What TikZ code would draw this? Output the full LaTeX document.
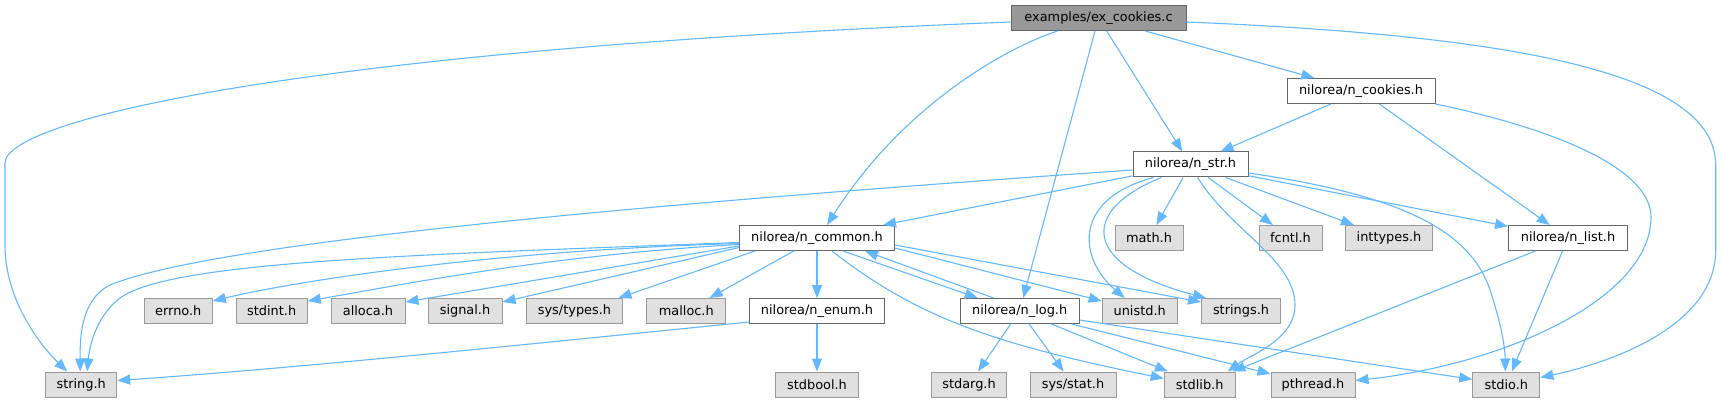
\documentclass[tikz,border=0pt]{standalone}
\usepackage{fontspec}
\newfontfamily\dejavu{DejaVu Sans}
\usetikzlibrary{arrows.meta,calc}
\definecolor{rootfill}{HTML}{999999}
\definecolor{darkborder}{HTML}{666666}
\definecolor{extfill}{HTML}{E0E0E0}
\definecolor{extborder}{HTML}{999999}
\definecolor{edgecol}{HTML}{63B8FF}
\tikzset{
  base/.style={draw, minimum height=25pt, inner sep=0pt, line width=1pt,
    font=\dejavu\fontsize{12.9}{15}\selectfont},
  rootbox/.style={base, fill=rootfill, draw=darkborder},
  docbox/.style={base, fill=white, draw=darkborder},
  extbox/.style={base, fill=extfill, draw=extborder},
  dep/.style={draw=edgecol, line width=1.1pt, -{Triangle[length=13pt,width=10pt]}},
}
\begin{document}
\begin{tikzpicture}[x=1pt,y=-1pt]
\fill[white] (0,0) rectangle (1721,403);
\useasboundingbox (0,0) rectangle (1721,403);
% row 0
\node[rootbox, minimum width=175pt] (root) at (1098.5,18) {examples/ex\_cookies.c};
% row 1
\node[docbox, minimum width=148pt] (cookies) at (1361,91) {nilorea/n\_cookies.h};
% row 2
\node[docbox, minimum width=115pt] (str) at (1190.5,164.5) {nilorea/n\_str.h};
% row 3
\node[docbox, minimum width=155pt] (common) at (817,238) {nilorea/n\_common.h};
\node[extbox, minimum width=68pt] (math) at (1149,238) {math.h};
\node[extbox, minimum width=63pt] (fcntl) at (1290.5,238) {fcntl.h};
\node[extbox, minimum width=87pt] (inttypes) at (1389,238) {inttypes.h};
\node[docbox, minimum width=119pt] (list) at (1568,238) {nilorea/n\_list.h};
% row 4
\node[extbox, minimum width=68pt] (errno) at (178.3,311) {errno.h};
\node[extbox, minimum width=71pt] (stdint) at (271.7,311) {stdint.h};
\node[extbox, minimum width=74pt] (alloca) at (368,311) {alloca.h};
\node[extbox, minimum width=74pt] (signal) at (465,311) {signal.h};
\node[extbox, minimum width=96pt] (systypes) at (574.5,311) {sys/types.h};
\node[extbox, minimum width=79pt] (malloc) at (686.3,311) {malloc.h};
\node[docbox, minimum width=135pt] (enum) at (817,311) {nilorea/n\_enum.h};
\node[docbox, minimum width=119pt] (log) at (1019.7,311) {nilorea/n\_log.h};
\node[extbox, minimum width=75pt] (unistd) at (1139.7,311) {unistd.h};
\node[extbox, minimum width=79pt] (strings) at (1241,311) {strings.h};
% row 5
\node[extbox, minimum width=71pt] (string) at (81.2,384.5) {string.h};
\node[extbox, minimum width=83pt] (stdbool) at (817,384.5) {stdbool.h};
\node[extbox, minimum width=75pt] (stdarg) at (969,384.5) {stdarg.h};
\node[extbox, minimum width=86pt] (sysstat) at (1073,384.5) {sys/stat.h};
\node[extbox, minimum width=71pt] (stdlib) at (1199.7,384.5) {stdlib.h};
\node[extbox, minimum width=84pt] (pthread) at (1313,384.5) {pthread.h};
\node[extbox, minimum width=67pt] (stdio) at (1506.3,384.5) {stdio.h};

% edges from root
\draw[dep] ($(root.west)+(0,4)$) .. controls (300,50) and (5,120) .. (5,163)
   -- (5,245) .. controls (5,300) and (40,345) .. ($(string.north)+(-14,0)$);
\draw[dep] ($(root.south)+(-41,0)$) .. controls (1000,50) and (900,110) .. ($(common.north)+(10,0)$);
\draw[dep] (root) -- (log);
\draw[dep] (root) -- (str);
\draw[dep] (root) -- (cookies);
\draw[dep] ($(root.east)+(0,4)$) .. controls (1500,35) and (1715.7,70) .. (1715.7,165)
   -- (1715.7,250) .. controls (1715.7,330) and (1600,365) .. ($(stdio.east)+(0,-7)$);
% edges from cookies
\draw[dep] (cookies) -- (str);
\draw[dep] (cookies) -- (list);
\draw[dep] (cookies.south east) .. controls (1560,130) and (1651,170) .. (1651,217)
   .. controls (1651,300) and (1500,365) .. ($(pthread.east)+(0,-4)$);
% edges from str
\draw[dep] ($(str.west)+(0,5.5)$) .. controls (700,200) and (220,240) .. (110,285)
   .. controls (80,300) and (80,340) .. ($(string.north)+(-1,0)$);
\draw[dep] (str) -- (common);
\draw[dep] (str) -- (math);
\draw[dep] (str) -- (fcntl);
\draw[dep] (str) -- (inttypes);
\draw[dep] (str) -- (list);
\draw[dep] ($(str.east)+(0,8.5)$) .. controls (1400,195) and (1470,230) .. (1490,290)
   .. controls (1500,320) and (1505,345) .. ($(stdio.north)+(-1,0)$);
\draw[dep] ($(str.south)+(7,0)$) .. controls (1230,230) and (1295,260) .. (1295,305)
   .. controls (1295,340) and (1250,355) .. ($(stdlib.north)+(28,0)$);
\draw[dep] ($(str.south)+(-37,0)$) .. controls (1070,200) and (1080,260) .. ($(unistd.north)+(-15,0)$);
\draw[dep] ($(str.south)+(-29,0)$) .. controls (1080,210) and (1080,265) .. ($(strings.north west)+(5,0)$);
% edges from common
\draw[dep] ($(common.west)+(0,4.5)$) .. controls (400,255) and (170,262) .. (120,298)
   .. controls (100,313) and (90,340) .. ($(string.north)+(6,0)$);
\draw[dep] ($(common.west)+(0,5.5)$) .. controls (500,250) and (300,280) .. ($(errno.east)+(0,-10)$);
\draw[dep] ($(common.west)+(0,6.5)$) .. controls (550,255) and (400,285) .. ($(stdint.east)+(0,-10)$);
\draw[dep] ($(common.west)+(0,8)$) -- ($(alloca.east)+(0,-9)$);
\draw[dep] ($(common.west)+(0,9.5)$) -- ($(signal.east)+(0,-9)$);
\draw[dep] ($(common.south)+(-62,0)$) -- ($(systypes.north)+(44,0)$);
\draw[dep] (common) -- (malloc);
\draw[dep] (common) -- (enum);
\draw[dep] ($(common.south)+(26,0)$) -- ($(log.north)+(-42,0)$);
\draw[dep] ($(common.east)+(0,10)$) -- ($(unistd.west)+(0,-10)$);
\draw[dep] ($(common.east)+(0,7)$) -- ($(strings.west)+(0,-9)$);
\draw[dep] ($(common.south)+(15,0)$) .. controls (920,320) and (1000,345) .. ($(stdlib.west)+(0,-6)$);
% edges from enum
\draw[dep] ($(enum.west)+(0,11)$) .. controls (550,342) and (300,368) .. ($(string.east)+(0,-4)$);
\draw[dep] (enum) -- (stdbool);
% edges from log
\draw[dep] ($(log.north)+(-26,0)$) -- ($(common.south)+(48,0)$);
\draw[dep] (log) -- (stdarg);
\draw[dep] (log) -- (sysstat);
\draw[dep] (log) -- (stdlib);
\draw[dep] (log) -- (pthread);
\draw[dep] (log) -- (stdio);
% edges from list
\draw[dep] (list) -- (stdlib);
\draw[dep] (list) -- (stdio);
\end{tikzpicture}
\end{document}
